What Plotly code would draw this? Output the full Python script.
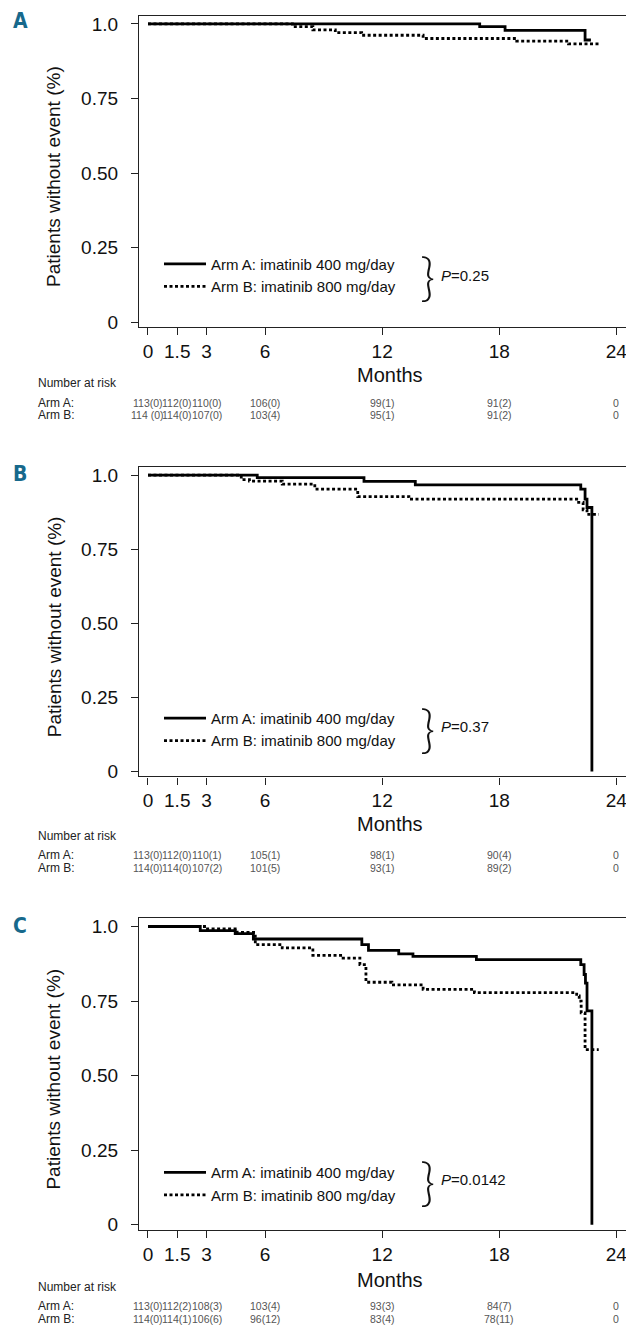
import plotly.graph_objects as go

# ---------------- data ----------------
legend_names = ["Arm A: imatinib 400 mg/day", "Arm B: imatinib 800 mg/day"]
panel_labels = ["A", "B", "C"]
p_values = ["0.25", "0.37", "0.0142"]

# Panel A curves (months, survival proportion)
A_arm_a_t = [0, 17.0, 18.3, 22.4, 22.7]
A_arm_a_s = [1.0, 0.991, 0.978, 0.946, 0.946]
A_arm_b_t = [0, 7.4, 8.45, 9.6, 10.95, 14.1, 18.9, 21.55, 23.1]
A_arm_b_s = [1.0, 0.991, 0.98, 0.971, 0.962, 0.951, 0.942, 0.933, 0.933]

# Panel B curves
B_arm_a_t = [0, 5.6, 11.07, 13.7, 22.18, 22.4, 22.5, 22.75]
B_arm_a_s = [1.0, 0.992, 0.979, 0.967, 0.953, 0.919, 0.891, 0.0]
B_arm_b_t = [0, 4.78, 5.2, 6.88, 8.55, 10.75, 13.37, 21.97, 22.3, 22.5, 23.1]
B_arm_b_s = [1.0, 0.985, 0.98, 0.97, 0.953, 0.928, 0.919, 0.908, 0.883, 0.868, 0.868]

# Panel C curves
C_arm_a_t = [0, 2.68, 4.47, 5.4, 10.96, 11.3, 12.85, 13.58, 16.83, 22.18, 22.35, 22.42, 22.5, 22.75]
C_arm_a_s = [1.0, 0.986, 0.976, 0.958, 0.939, 0.92, 0.908, 0.9, 0.889, 0.872, 0.839, 0.81, 0.717, 0.0]
C_arm_b_t = [0, 2.9, 4.57, 5.5, 6.88, 8.45, 10.0, 10.86, 11.17, 12.5, 14.1, 16.73, 21.97, 22.1, 22.2, 22.4, 23.1]
C_arm_b_s = [1.0, 0.992, 0.98, 0.939, 0.928, 0.903, 0.894, 0.872, 0.813, 0.804, 0.789, 0.778, 0.767, 0.75, 0.71, 0.587, 0.587]

# Number at risk
risk_times = [0, 1.5, 3, 6, 12, 18, 24]
A_risk_arm_a = ["113(0)", "112(0)", "110(0)", "106(0)", "99(1)", "91(2)", "0"]
A_risk_arm_b = ["114 (0)", "114(0)", "107(0)", "103(4)", "95(1)", "91(2)", "0"]
B_risk_arm_a = ["113(0)", "112(0)", "110(1)", "105(1)", "98(1)", "90(4)", "0"]
B_risk_arm_b = ["114(0)", "114(0)", "107(2)", "101(5)", "93(1)", "89(2)", "0"]
C_risk_arm_a = ["113(0)", "112(2)", "108(3)", "103(4)", "93(3)", "84(7)", "0"]
C_risk_arm_b = ["114(0)", "114(1)", "106(6)", "96(12)", "83(4)", "78(11)", "0"]

x_tickvals = [0, 1.5, 3, 6, 12, 18, 24]
x_ticktext = ["0", "1.5", "3", "6", "12", "18", "24"]
y_tickvals = [0, 0.25, 0.5, 0.75, 1.0]
y_ticktext = ["0", "0.25", "0.50", "0.75", "1.0"]

# ---------------- layout helpers ----------------
OFF = 8                      # page body margin offset
W, H = 634 - OFF, 1344 - OFF
def px(p):
    return (p - OFF) / W
def py(p):
    return 1 - (p - OFF) / H

FONT = "Liberation Sans, Arial, sans-serif"
BOLDC = "DejaVu Sans Condensed, Liberation Sans, sans-serif"
X_RANGE = [-0.46, 24.6]
Y_RANGE = [-0.017, 1.027]
BOX_L, BOX_R = 139, 628

panels = [
    dict(curves=[(A_arm_a_t, A_arm_a_s), (A_arm_b_t, A_arm_b_s)],
         risk=[A_risk_arm_a, A_risk_arm_b], y1=22, y0=322, lab_y=19,
         leg_top=247, brace_y=275, months_y=375, nar_y=383, rowa=403, rowb=415),
    dict(curves=[(B_arm_a_t, B_arm_a_s), (B_arm_b_t, B_arm_b_s)],
         risk=[B_risk_arm_a, B_risk_arm_b], y1=476, y0=774, lab_y=475,
         leg_top=704, brace_y=729, months_y=827, nar_y=839, rowa=858, rowb=871),
    dict(curves=[(C_arm_a_t, C_arm_a_s), (C_arm_b_t, C_arm_b_s)],
         risk=[C_risk_arm_a, C_risk_arm_b], y1=930, y0=1230, lab_y=930,
         leg_top=1161, brace_y=1185, months_y=1286, nar_y=1293, rowa=1312, rowb=1325),
]

fig = go.Figure()
annotations = []
layout = dict(width=W, height=H, margin=dict(l=0, r=0, t=0, b=0),
              paper_bgcolor="white", plot_bgcolor="white", showlegend=True)

styles = [dict(color="black", width=2.8, dash="solid", shape="hv"),
          dict(color="black", width=2.8, dash="3px,2.5px", shape="hv")]

def ann(x, y, text, font, **kw):
    d = dict(x=x, y=y, xref="paper", yref="paper", text=text, showarrow=False,
             xanchor="center", yanchor="middle", font=font)
    d.update(kw)
    return d

for i, p in enumerate(panels):
    n = i + 1
    xa = "x" if n == 1 else f"x{n}"
    ya = "y" if n == 1 else f"y{n}"
    lg = "legend" if n == 1 else f"legend{n}"
    span = p["y0"] - p["y1"]
    top = p["y1"] - (Y_RANGE[1] - 1) * span
    bot = p["y0"] + (-Y_RANGE[0]) * span
    for (t, s), name, st in zip(p["curves"], legend_names, styles):
        fig.add_trace(go.Scatter(x=t, y=s, mode="lines", name=name, line=st,
                                 xaxis=xa, yaxis=ya, legend=lg, hoverinfo="skip"))
    layout[f"xaxis{'' if n == 1 else n}"] = dict(
        domain=[px(BOX_L), px(BOX_R)], range=X_RANGE, anchor=ya,
        tickvals=x_tickvals, ticktext=x_ticktext, ticks="outside", ticklen=7,
        tickwidth=1.3, tickcolor="#222", showline=True, linecolor="#222", linewidth=1.3,
        mirror=True, showgrid=False, zeroline=False,
        tickfont=dict(family=FONT, size=19, color="#111"))
    layout[f"yaxis{'' if n == 1 else n}"] = dict(
        domain=[py(bot), py(top)], range=Y_RANGE, anchor=xa,
        tickvals=y_tickvals, ticktext=y_ticktext, ticks="outside", ticklen=7,
        tickwidth=1.3, tickcolor="#222", showline=True, linecolor="#222", linewidth=1.3,
        mirror=True, showgrid=False, zeroline=False, ticklabelstandoff=9,
        tickfont=dict(family=FONT, size=19, color="#111"))
    layout[lg] = dict(x=px(159), y=py(p["leg_top"]), xanchor="left", yanchor="top",
                      bgcolor="rgba(0,0,0,0)", font=dict(family=FONT, size=15, color="#111"),
                      tracegroupgap=0, itemwidth=42)
    # panel label
    annotations.append(ann(px(20), py(p["lab_y"]), f"<b>{panel_labels[i]}</b>",
                           dict(family=BOLDC, size=21, color="#17698c")))
    # y title
    annotations.append(ann(px(54), py((p["y1"] + p["y0"]) / 2 + 4), "Patients without event (%)",
                           dict(family=FONT, size=19, color="#111"), textangle=-90))
    # Months
    annotations.append(ann(px(390), py(p["months_y"]), "Months",
                           dict(family=FONT, size=20, color="#111")))
    # brace and P value
    annotations.append(ann(px(427), py(p["brace_y"]), "}",
                           dict(family="Lato, Roboto, sans-serif", size=52, color="#111", weight=300)))
    annotations.append(ann(px(439), py(p["brace_y"]), f"<i>P</i>={p_values[i]}",
                           dict(family=FONT, size=15, color="#111"), xanchor="left"))
    # Number at risk
    annotations.append(ann(px(36), py(p["nar_y"]), "Number at risk",
                           dict(family=FONT, size=12, color="#222"), xanchor="left"))
    for lab, rowy in (("Arm A:", p["rowa"]), ("Arm B:", p["rowb"])):
        annotations.append(ann(px(36), py(rowy), lab,
                               dict(family=FONT, size=12, color="#222"), xanchor="left"))
    for vals, rowy in zip(p["risk"], (p["rowa"], p["rowb"])):
        for tm, v in zip(risk_times, vals):
            annotations.append(dict(x=tm, y=py(rowy), xref=xa, yref="paper",
                                    text=v, showarrow=False, xanchor="center", yanchor="middle",
                                    font=dict(family=FONT, size=10.5, color="#555")))

layout["annotations"] = annotations
fig.update_layout(**layout)
fig.write_html("out.html")
